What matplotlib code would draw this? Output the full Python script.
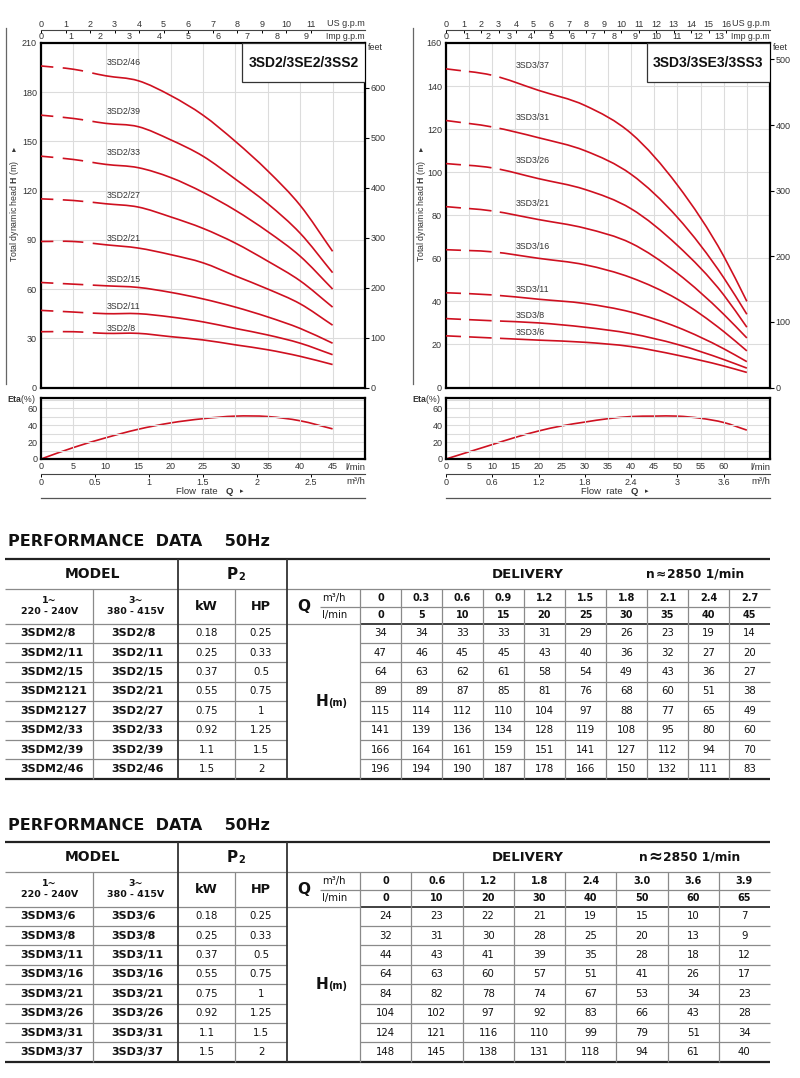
import numpy as np
import matplotlib.pyplot as plt
from matplotlib.patches import Rectangle, PathPatch
from matplotlib.path import Path

plt.rcParams['font.family'] = ['Liberation Sans', 'DejaVu Sans']
plt.rcParams['lines.scale_dashes'] = False
plt.rcParams['mathtext.fontset'] = 'custom'
plt.rcParams['mathtext.rm'] = 'Liberation Sans'
plt.rcParams['mathtext.bf'] = 'Liberation Sans:bold'

W, H = 800, 1078
RED = '#cf1020'
TXT = '#333333'
GRID = '#8a8a8a'
TF = 'DejaVu Sans'   # the table print is wider than the chart print

# ---------------- 3SD2 series ----------------
q2_m3h = ['0', '0.3', '0.6', '0.9', '1.2', '1.5', '1.8', '2.1', '2.4', '2.7']
q2_lpm = [0, 5, 10, 15, 20, 25, 30, 35, 40, 45]
mod2_1ph = ['3SDM2/8', '3SDM2/11', '3SDM2/15', '3SDM2121', '3SDM2127',
            '3SDM2/33', '3SDM2/39', '3SDM2/46']
mod2_3ph = ['3SD2/8', '3SD2/11', '3SD2/15', '3SD2/21', '3SD2/27',
            '3SD2/33', '3SD2/39', '3SD2/46']
kw2 = ['0.18', '0.25', '0.37', '0.55', '0.75', '0.92', '1.1', '1.5']
hp2 = ['0.25', '0.33', '0.5', '0.75', '1', '1.25', '1.5', '2']
head2 = [[34, 34, 33, 33, 31, 29, 26, 23, 19, 14],
         [47, 46, 45, 45, 43, 40, 36, 32, 27, 20],
         [64, 63, 62, 61, 58, 54, 49, 43, 36, 27],
         [89, 89, 87, 85, 81, 76, 68, 60, 51, 38],
         [115, 114, 112, 110, 104, 97, 88, 77, 65, 49],
         [141, 139, 136, 134, 128, 119, 108, 95, 80, 60],
         [166, 164, 161, 159, 151, 141, 127, 112, 94, 70],
         [196, 194, 190, 187, 178, 166, 150, 132, 111, 83]]
eta2_q = [0, 5, 10, 15, 20, 25, 30, 35, 40, 45]
eta2 = [0, 13.5, 25, 35, 42.5, 47.5, 50.5, 50, 45, 35.5]

# ---------------- 3SD3 series ----------------
q3_m3h = ['0', '0.6', '1.2', '1.8', '2.4', '3.0', '3.6', '3.9']
q3_lpm = [0, 10, 20, 30, 40, 50, 60, 65]
mod3_1ph = ['3SDM3/6', '3SDM3/8', '3SDM3/11', '3SDM3/16', '3SDM3/21',
            '3SDM3/26', '3SDM3/31', '3SDM3/37']
mod3_3ph = ['3SD3/6', '3SD3/8', '3SD3/11', '3SD3/16', '3SD3/21',
            '3SD3/26', '3SD3/31', '3SD3/37']
kw3 = ['0.18', '0.25', '0.37', '0.55', '0.75', '0.92', '1.1', '1.5']
hp3 = ['0.25', '0.33', '0.5', '0.75', '1', '1.25', '1.5', '2']
head3 = [[24, 23, 22, 21, 19, 15, 10, 7],
         [32, 31, 30, 28, 25, 20, 13, 9],
         [44, 43, 41, 39, 35, 28, 18, 12],
         [64, 63, 60, 57, 51, 41, 26, 17],
         [84, 82, 78, 74, 67, 53, 34, 23],
         [104, 102, 97, 92, 83, 66, 43, 28],
         [124, 121, 116, 110, 99, 79, 51, 34],
         [148, 145, 138, 131, 118, 94, 61, 40]]
eta3_q = [0, 5, 10, 15, 20, 25, 30, 35, 40, 45, 50, 55, 60, 65]
eta3 = [0, 8.5, 17, 25.5, 33, 39, 43.5, 47.5, 50, 50.5, 50.5, 48, 43, 34]

fig = plt.figure(figsize=(W / 100, H / 100), dpi=100)
ax_t = fig.add_axes([0, 0, 1, 1])
ax_t.set_xlim(0, W)
ax_t.set_ylim(H, 0)
ax_t.axis('off')


def px_axes(x0, y0, x1, y1):
    return fig.add_axes([x0 / W, 1 - y1 / H, (x1 - x0) / W, (y1 - y0) / H])


def smooth_curve(ax, x, y, **kw):
    # cubic hermite path through the measured points (bezier form)
    x = np.asarray(x, float)
    y = np.asarray(y, float)
    m = np.gradient(y, x)
    verts = [(x[0], y[0])]
    codes = [Path.MOVETO]
    for i in range(len(x) - 1):
        h = x[i + 1] - x[i]
        verts += [(x[i] + h / 3, y[i] + m[i] * h / 3),
                  (x[i + 1] - h / 3, y[i + 1] - m[i + 1] * h / 3),
                  (x[i + 1], y[i + 1])]
        codes += [Path.CURVE4] * 3
    ax.add_patch(PathPatch(Path(verts, codes), fill=False, **kw))


def pump_chart(x0, x1, q, heads, names, eta_q, eta, xmax, ymax, ystep, ftmax,
               usmax, impmax, m3h_ticks, lpm_max, title, dash, lab_q, vline_x):
    ax = px_axes(x0, 43, x1, 387.5)
    for h, nm in zip(heads, names):
        smooth_curve(ax, q, h, ec=RED, lw=1.2, linestyle=(0, dash), zorder=3)
        ax.annotate(nm, (lab_q, h[0]), xytext=(0, 2.5), textcoords='offset points',
                    fontsize=6.3, color=TXT, va='center', ha='left')
    ax.set_xlim(0, xmax)
    ax.set_ylim(0, ymax)
    ax.set_xticks(np.arange(0, xmax + 1, 5))
    ax.set_yticks(np.arange(0, ymax + 1, ystep))
    ax.grid(color='#dcdcdc', lw=0.8)
    ax.tick_params(axis='x', length=0, labelbottom=False)
    ax.tick_params(axis='y', length=0, pad=3, labelsize=6.5, labelcolor=TXT)
    for s in ax.spines.values():
        s.set_linewidth(1.6)

    ft = ax.secondary_yaxis('right', functions=(lambda m: m * 3.281, lambda f: f / 3.281))
    ft.set_yticks(np.arange(0, ftmax + 1, 100))
    ft.tick_params(length=3, width=0.8, pad=1, labelsize=6.5, labelcolor=TXT)
    ft.spines['right'].set_visible(False)

    us = ax.secondary_xaxis(1.038, functions=(lambda l: l * 0.264172, lambda g: g / 0.264172))
    us.set_xticks(range(usmax + 1))
    us.tick_params(direction='in', length=2, width=0.7, pad=1, labelsize=6.5, labelcolor=TXT)
    us.spines['top'].set_linewidth(0.8)
    us.spines['top'].set_color('#444')
    imp = ax.secondary_xaxis(1.0, functions=(lambda l: l * 0.219969, lambda g: g / 0.219969))
    imp.set_xticks(range(impmax + 1))
    imp.tick_params(length=0, pad=1.5, labelsize=6.5, labelcolor=TXT)
    imp.spines['top'].set_visible(False)

    ax.add_patch(Rectangle((0.62, 0.886), 0.38, 0.114, transform=ax.transAxes,
                           fc='white', ec='#333', lw=0.9, zorder=4))
    ax.text(0.81, 0.943, title, transform=ax.transAxes, ha='center', va='center',
            fontsize=10, fontweight='bold', color='#111', zorder=5)

    ae = px_axes(x0, 398.3, x1, 459)
    smooth_curve(ae, eta_q, eta, ec=RED, lw=1.2)
    ae.set_xlim(0, xmax)
    ae.set_ylim(0, 71.5)
    ae.set_xticks(np.arange(0, xmax + 1, 5))
    ae.set_yticks(np.arange(0, 71, 10))
    ae.set_yticklabels(['0', '', '20', '', '40', '', '60', ''])
    ae.set_xticklabels([str(v) if v <= lpm_max else '' for v in range(0, xmax + 1, 5)])
    ae.grid(color='#dcdcdc', lw=0.8)
    ae.tick_params(length=0, pad=2.5, labelsize=6.5, labelcolor=TXT)
    for s in ae.spines.values():
        s.set_linewidth(1.6)

    m3 = ae.secondary_xaxis(-0.247, functions=(lambda l: l * 0.06, lambda m: m / 0.06))
    m3.set_xticks(m3h_ticks)
    m3.set_xticklabels(['%g' % v for v in m3h_ticks])
    m3.tick_params(length=2, width=0.7, pad=0.8, labelsize=6.5, labelcolor=TXT)
    m3.spines['bottom'].set_linewidth(0.8)
    m3.spines['bottom'].set_color('#444')

    # surrounding texts and rules
    ax_t.text(x1, 24, 'US g.p.m', ha='right', va='center', fontsize=6.5, color=TXT)
    ax_t.text(x1, 36.5, 'Imp g.p.m', ha='right', va='center', fontsize=6.3, color=TXT)
    ax_t.text(x1 + 3, 47, 'feet', ha='left', va='center', fontsize=6.5, color=TXT)
    ax_t.text(x1, 467, 'l/min', ha='right', va='center', fontsize=6.8, color=TXT)
    ax_t.text(x1, 481, 'm³/h', ha='right', va='center', fontsize=6.8, color=TXT)
    ax_t.text(x0 - 34, 399, r'$\mathbf{Eta}$(%)', ha='left', va='center', fontsize=6.3, color=TXT)
    ax_t.plot([vline_x, vline_x], [28, 384], color='#666', lw=0.9)
    ax_t.text(vline_x + 9, 262, r'Total dynamic head $\mathbf{H}$ (m)', rotation=90,
              ha='center', va='bottom', fontsize=6.3, color=TXT)
    ax_t.text(vline_x + 9, 149, '▸', rotation=90, ha='center', va='center',
              fontsize=6, color=TXT)
    xc = x0 + 0.545 * (x1 - x0)
    ax_t.text(xc, 491.5, 'Flow  rate', ha='right', va='center', fontsize=6.8, color=TXT)
    ax_t.text(xc + 8, 491.5, 'Q', ha='left', va='center', fontsize=6.8,
              fontweight='bold', color=TXT)
    ax_t.text(xc + 22, 491.5, '▸', ha='left', va='center', fontsize=5, color=TXT)
    ax_t.plot([x0, x1], [497.7, 497.7], color='#555', lw=0.9)


pump_chart(41, 365, q2_lpm, head2, mod2_3ph, eta2_q, eta2, 50, 210, 30, 600,
           11, 9, [0, 0.5, 1, 1.5, 2, 2.5], 45, '3SD2/3SE2/3SS2',
           (8.9, 6.8, 14.8, 6.8, 1000, 1), 10.2, 6)
pump_chart(446, 770, q3_lpm, head3, mod3_3ph, eta3_q, eta3, 70, 160, 20, 500,
           16, 13, [0, 0.6, 1.2, 1.8, 2.4, 3, 3.6], 60, '3SD3/3SE3/3SS3',
           (10.8, 5.8, 16.3, 6.0, 1000, 1), 15.1, 412.7)


def tt(x, y, s, size, bold=False, ha='center', **kw):
    ax_t.text(x, y, s, ha=ha, va='center', fontsize=size, family=TF,
              fontweight='bold' if bold else 'normal', color='#111', **kw)


def perf_table(top, q_m3h, q_lpm, m1, m3, kw, hp, heads, n_x, n_size):
    r1 = top + 29.7
    mid = r1 + 17.5
    r2 = r1 + 34.5
    rows = r2 + 19.4 * np.arange(len(m1) + 1)
    bottom = rows[-1]
    qe = np.linspace(360, 770, len(q_lpm) + 1)
    qc = (qe[:-1] + qe[1:]) / 2

    tt(8, top - 17.3, 'PERFORMANCE  DATA    50Hz', 11.5, True, ha='left')
    # rules
    ax_t.hlines([top, bottom], 5, 770, color='#222', lw=1.6)
    ax_t.hlines(r1, 5, 770, color=GRID, lw=0.9)
    ax_t.hlines(mid, 320, 770, color=GRID, lw=0.9)
    ax_t.hlines(r2, 5, 360, color=GRID, lw=0.9)
    ax_t.hlines(r2, 360, 770, color='#333', lw=1.3)
    ax_t.hlines(rows[1:-1], 5, 287.3, color=GRID, lw=0.9)
    ax_t.hlines(rows[1:-1], 360, 770, color=GRID, lw=0.9)
    ax_t.vlines([92.7, 235, 360], r1, bottom, color=GRID, lw=0.9)
    ax_t.vlines(qe[1:-1], r1, bottom, color=GRID, lw=0.9)
    ax_t.vlines([178.3, 287.3], top, bottom, color='#333', lw=1.3)

    # header
    hy = (top + r1) / 2
    tt(93, hy, 'MODEL', 10, True)
    tt(238, hy, 'P', 11, True, ha='right')
    tt(238.5, hy + 3, '2', 7, True, ha='left')
    tt(528, hy, 'DELIVERY', 9.5, True)
    tt(n_x, hy, 'n', 8.8, True, ha='right')
    tt(n_x + 0.5, hy, '≈', n_size, True, ha='left')
    tt(n_x + 1.5 + 0.838 * n_size * 100 / 72, hy, '2850 1/min', 8.8, True, ha='left')
    sy = (r1 + r2) / 2
    tt(49.5, sy, '1~\n220 - 240V', 6.8, True, linespacing=1.35)
    tt(135.5, sy, '3~\n380 - 415V', 6.8, True, linespacing=1.35)
    tt(206.6, sy, 'kW', 9.3, True)
    tt(261, sy, 'HP', 9.3, True)
    tt(304, sy, 'Q', 11, True)
    tt(322, (r1 + mid) / 2, 'm³/h', 7.3, ha='left')
    tt(322, (mid + r2) / 2, 'l/min', 7.3, ha='left')
    for j in range(len(q_lpm)):
        tt(qc[j], (r1 + mid) / 2, q_m3h[j], 7, True)
        tt(qc[j], (mid + r2) / 2, str(q_lpm[j]), 7, True)
    hm = (r2 + bottom) / 2
    tt(328, hm, 'H', 11, True, ha='right')
    tt(328.5, hm + 1.5, '(m)', 7, True, ha='left')

    # body
    for i in range(len(m1)):
        y = (rows[i] + rows[i + 1]) / 2
        tt(20.5, y, m1[i], 8, True, ha='left')
        tt(111, y, m3[i], 8, True, ha='left')
        tt(206.6, y, kw[i], 7.3)
        tt(261, y, hp[i], 7.3)
        for j in range(len(q_lpm)):
            tt(qc[j], y, str(heads[i][j]), 7.3)


perf_table(559.3, q2_m3h, q2_lpm, mod2_1ph, mod2_3ph, kw2, hp2, head2, 655, 8.8)
perf_table(842.3, q3_m3h, q3_lpm, mod3_1ph, mod3_3ph, kw3, hp3, head3, 648, 12)

fig.savefig('out.png', dpi=100)
